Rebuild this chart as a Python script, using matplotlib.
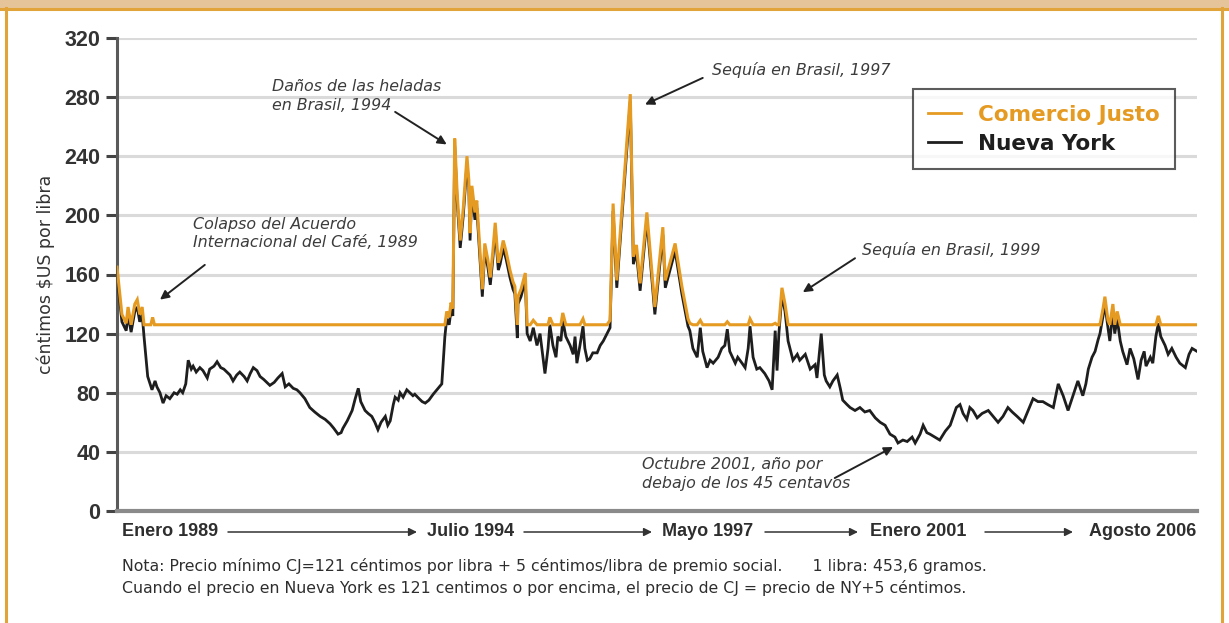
import matplotlib
matplotlib.use("Agg")
import matplotlib.pyplot as plt
from matplotlib.patches import Rectangle, FancyArrowPatch
from matplotlib.lines import Line2D

# ---------------- data ----------------
fechas_ny = [
    1989.00, 1989.08, 1989.15, 1989.18, 1989.23, 1989.29, 1989.33, 1989.37, 1989.41, 1989.44,
    1989.50, 1989.57, 1989.62, 1989.65, 1989.70, 1989.75, 1989.80, 1989.86, 1989.93, 1989.98,
    1990.03, 1990.07, 1990.12, 1990.16, 1990.21, 1990.24, 1990.29, 1990.35, 1990.40, 1990.47,
    1990.51, 1990.58, 1990.63, 1990.69, 1990.74, 1990.79, 1990.84, 1990.89, 1990.95, 1991.00,
    1991.07, 1991.12, 1991.17, 1991.22, 1991.28, 1991.33, 1991.39, 1991.44, 1991.49, 1991.56,
    1991.62, 1991.69, 1991.74, 1991.80, 1991.87, 1991.93, 1991.98, 1992.06, 1992.14, 1992.22,
    1992.31, 1992.39, 1992.47, 1992.53, 1992.60, 1992.65, 1992.68, 1992.75, 1992.83, 1992.88,
    1992.93, 1992.97, 1993.04, 1993.09, 1993.15, 1993.20, 1993.25, 1993.30, 1993.37, 1993.41,
    1993.45, 1993.50, 1993.53, 1993.58, 1993.61, 1993.66, 1993.72, 1993.77, 1993.82, 1993.85,
    1993.92, 1993.97, 1994.02, 1994.08, 1994.15, 1994.21, 1994.29, 1994.34, 1994.37, 1994.41,
    1994.44, 1994.47, 1994.50, 1994.54, 1994.59, 1994.64, 1994.70, 1994.73, 1994.75, 1994.78,
    1994.83, 1994.86, 1994.91, 1994.95, 1994.99, 1995.04, 1995.08, 1995.12, 1995.16, 1995.21,
    1995.24, 1995.29, 1995.34, 1995.40, 1995.45, 1995.48, 1995.52, 1995.53, 1995.58, 1995.65,
    1995.68, 1995.73, 1995.78, 1995.84, 1995.89, 1995.94, 1995.97, 1996.02, 1996.05, 1996.10,
    1996.15, 1996.18, 1996.23, 1996.26, 1996.31, 1996.38, 1996.43, 1996.46, 1996.49, 1996.54,
    1996.59, 1996.62, 1996.66, 1996.70, 1996.75, 1996.82, 1996.87, 1996.92, 1996.98, 1997.03,
    1997.08, 1997.14, 1997.36, 1997.41, 1997.46, 1997.52, 1997.63, 1997.76, 1997.89, 1997.93,
    1998.09, 1998.20, 1998.30, 1998.33, 1998.38, 1998.45, 1998.50, 1998.54, 1998.61, 1998.66,
    1998.71, 1998.79, 1998.85, 1998.90, 1998.94, 1998.98, 1999.07, 1999.11, 1999.18, 1999.23,
    1999.28, 1999.31, 1999.36, 1999.42, 1999.47, 1999.55, 1999.62, 1999.67, 1999.72, 1999.75,
    1999.78, 1999.83, 1999.88, 1999.93, 2000.01, 2000.08, 2000.12, 2000.21, 2000.29, 2000.37,
    2000.40, 2000.47, 2000.52, 2000.55, 2000.61, 2000.66, 2000.73, 2000.78, 2000.82, 2000.89,
    2000.94, 2001.02, 2001.10, 2001.18, 2001.26, 2001.35, 2001.43, 2001.51, 2001.59, 2001.67,
    2001.72, 2001.80, 2001.87, 2001.95, 2002.00, 2002.08, 2002.13, 2002.19, 2002.24, 2002.32,
    2002.40, 2002.49, 2002.57, 2002.62, 2002.67, 2002.73, 2002.78, 2002.84, 2002.89, 2002.94,
    2003.01, 2003.09, 2003.19, 2003.27, 2003.35, 2003.43, 2003.51, 2003.58, 2003.66, 2003.76,
    2003.84, 2003.92, 2004.00, 2004.08, 2004.16, 2004.25, 2004.33, 2004.41, 2004.49, 2004.57,
    2004.65, 2004.73, 2004.78, 2004.82, 2004.88, 2004.93, 2004.98, 2005.01, 2005.06, 2005.09,
    2005.14, 2005.17, 2005.22, 2005.25, 2005.29, 2005.34, 2005.38, 2005.45, 2005.50, 2005.56,
    2005.63, 2005.68, 2005.73, 2005.76, 2005.83, 2005.87, 2005.92, 2005.96, 2006.00, 2006.07,
    2006.12, 2006.18, 2006.25, 2006.31, 2006.40, 2006.46, 2006.51, 2006.59,
]
nueva_york = [
    160, 128, 122, 133, 121, 135, 138, 128, 133, 118,
    91, 82, 88, 84, 80, 73, 78, 76, 80, 79,
    82, 80, 86, 102, 96, 98, 94, 97, 95, 90,
    96, 98, 101, 97, 96, 94, 92, 88, 92, 94,
    91, 88, 93, 97, 95, 91, 89, 87, 85, 87,
    90, 93, 84, 86, 83, 82, 80, 76, 70, 67,
    64, 62, 59, 56, 52, 53, 56, 61, 68, 76,
    83, 74, 68, 66, 64, 60, 55, 60, 64, 58,
    61, 72, 77, 75, 80, 77, 82, 80, 78, 79,
    76, 74, 73, 75, 79, 82, 86, 118, 130, 126,
    136, 132, 247, 210, 178, 200, 235, 219, 183, 215,
    197, 205, 172, 145, 176, 165, 153, 170, 190, 163,
    167, 178, 170, 158, 150, 147, 117, 140, 145, 156,
    120, 115, 124, 112, 120, 103, 93, 110, 126, 112,
    104, 118, 115, 129, 118, 112, 106, 118, 100, 112,
    125, 110, 102, 103, 107, 107, 112, 115, 120, 124,
    203, 151, 277, 167, 175, 149, 197, 133, 187, 151,
    176, 147, 125, 122, 110, 104, 124, 108, 97, 102,
    100, 104, 110, 112, 123, 108, 100, 104, 100, 97,
    110, 125, 104, 96, 97, 93, 88, 82, 122, 95,
    120, 146, 135, 115, 102, 106, 102, 106, 96, 99,
    90, 120, 92, 88, 84, 88, 92, 83, 75, 72,
    70, 68, 70, 67, 68, 63, 60, 58, 52, 50,
    46, 48, 47, 50, 46, 52, 58, 53, 52, 50,
    48, 54, 58, 64, 70, 72, 66, 62, 70, 68,
    63, 66, 68, 64, 60, 64, 70, 67, 64, 60,
    68, 76, 74, 74, 72, 70, 86, 78, 68, 78,
    88, 78, 86, 96, 104, 108, 116, 120, 132, 140,
    124, 115, 135, 120, 130, 115, 108, 99, 110, 103,
    89, 102, 108, 98, 104, 100, 118, 127, 118, 112,
    106, 110, 104, 100, 97, 106, 110, 108,
]

fechas_cj = [
    1989.00, 1989.08, 1989.15, 1989.18, 1989.23, 1989.29, 1989.33, 1989.37, 1989.41, 1989.44,
    1989.55, 1989.58, 1989.61, 1994.34, 1994.37, 1994.41, 1994.44, 1994.47, 1994.50, 1994.54,
    1994.59, 1994.64, 1994.70, 1994.73, 1994.75, 1994.78, 1994.83, 1994.86, 1994.91, 1994.95,
    1994.99, 1995.04, 1995.08, 1995.12, 1995.16, 1995.21, 1995.24, 1995.29, 1995.34, 1995.40,
    1995.45, 1995.48, 1995.52, 1995.53, 1995.58, 1995.65, 1995.68, 1995.73, 1995.78, 1995.84,
    1996.02, 1996.05, 1996.10, 1996.23, 1996.26, 1996.31, 1996.54, 1996.59, 1996.62, 1996.98,
    1997.03, 1997.08, 1997.14, 1997.36, 1997.41, 1997.46, 1997.52, 1997.63, 1997.76, 1997.89,
    1997.93, 1998.09, 1998.20, 1998.30, 1998.33, 1998.38, 1998.45, 1998.50, 1998.54, 1998.90,
    1998.94, 1998.98, 1999.28, 1999.31, 1999.36, 1999.67, 1999.72, 1999.75, 1999.78, 1999.83,
    1999.88, 1999.93, 2004.98, 2005.01, 2005.06, 2005.09, 2005.14, 2005.17, 2005.22, 2005.25,
    2005.29, 2005.34, 2005.92, 2005.96, 2006.00, 2006.59,
]
comercio_justo = [
    165, 133, 127, 138, 126, 140, 143, 133, 138, 126,
    126, 131, 126, 126, 135, 131, 141, 137, 252, 215,
    183, 205, 240, 224, 188, 220, 202, 210, 177, 150,
    181, 170, 158, 175, 195, 168, 172, 183, 175, 163,
    155, 152, 126, 145, 150, 161, 126, 126, 129, 126,
    126, 131, 126, 126, 134, 126, 126, 130, 126, 126,
    129, 208, 156, 282, 172, 180, 154, 202, 138, 192,
    156, 181, 152, 130, 127, 126, 126, 129, 126, 126,
    128, 126, 126, 130, 126, 126, 127, 126, 126, 151,
    140, 126, 126, 126, 137, 145, 129, 126, 140, 126,
    135, 126, 126, 132, 126, 126,
]

yticks = [0, 40, 80, 120, 160, 200, 240, 280, 320]
etiquetas_x = ["Enero 1989", "Julio 1994", "Mayo 1997", "Enero 2001", "Agosto 2006"]

# ---------------- style ----------------
NARANJA = "#E59A22"
NEGRO = "#1E1E1E"
GRIS_TXT = "#3C3C3C"
W, H = 1229, 623

fig = plt.figure(figsize=(W / 100, H / 100), dpi=100)
fig.patch.set_facecolor("white")

# frame: banner + orange side borders
fig.add_artist(Rectangle((0, 1 - 8 / H), 1, 8 / H, transform=fig.transFigure,
                         facecolor="#E6C49A", edgecolor="none", zorder=0))
fig.add_artist(Line2D([0, 1], [1 - 8.5 / H] * 2, transform=fig.transFigure,
                      color="#E0A43A", lw=2.2))
fig.add_artist(Line2D([5.5 / W] * 2, [0, 1 - 8 / H], transform=fig.transFigure,
                      color="#E0A43A", lw=2.2))
fig.add_artist(Line2D([1221.5 / W] * 2, [0, 1 - 8 / H], transform=fig.transFigure,
                      color="#E0A43A", lw=2.2))

ax = fig.add_axes([117 / W, 1 - 511 / H, (1197 - 117) / W, (511 - 38) / H])
ax.set_xlim(1989.0, 2006.59)
ax.set_ylim(0, 320)

ax.set_yticks(yticks)
ax.yaxis.grid(True, color="#DADADA", lw=2.2)
ax.set_axisbelow(True)
for s in ["top", "right"]:
    ax.spines[s].set_visible(False)
ax.spines["left"].set_color("#5A5A5A")
ax.spines["left"].set_linewidth(2.2)
ax.spines["bottom"].set_color("#8A8A8A")
ax.spines["bottom"].set_linewidth(3)
ax.set_xticks([])
ax.tick_params(axis="y", length=8, width=2.2, color="#444444", pad=4,
               labelsize=15.5, labelcolor="#333333")
for t in ax.get_yticklabels():
    t.set_fontweight("bold")
    t.set_fontfamily("Liberation Sans")

ax.set_ylabel("céntimos $US por libra", fontsize=12.5, color="#333333",
              fontfamily="DejaVu Sans", labelpad=7)

ax.plot(fechas_ny, nueva_york, color=NEGRO, lw=2.0, zorder=3, label="Nueva York",
        solid_joinstyle="miter")
ax.plot(fechas_cj, comercio_justo, color=NARANJA, lw=2.2, zorder=4, label="Comercio Justo",
        solid_joinstyle="miter")

# legend
h_ny = Line2D([], [], color=NEGRO, lw=2)
h_cj = Line2D([], [], color=NARANJA, lw=2)
leg = ax.legend([h_cj, h_ny], ["Comercio Justo", "Nueva York"], loc="upper left",
                bbox_to_anchor=(0.737, 0.892), frameon=True, fancybox=False,
                prop={"weight": "bold", "size": 15.5, "family": "DejaVu Sans"},
                handlelength=1.5, handletextpad=0.8, borderpad=0.72,
                labelspacing=0.42, borderaxespad=0)
leg.get_frame().set_edgecolor("#333333")
leg.get_frame().set_linewidth(1.5)
leg.get_texts()[0].set_color(NARANJA)
leg.get_texts()[1].set_color("#1E1E1E")

# annotations
akw = dict(arrowstyle="-|>", color="#222222", lw=1.4, mutation_scale=13,
           shrinkA=0, shrinkB=0)
tkw = dict(fontsize=11.4, style="italic", color=GRIS_TXT, linespacing=1.3)

ax.text(1991.52, 292, "Daños de las heladas\nen Brasil, 1994", va="top", ha="left", **tkw)
ax.annotate("", xy=(1994.37, 248), xytext=(1993.53, 270), arrowprops=akw)

ax.text(1998.69, 298.5, "Sequía en Brasil, 1997", va="center", ha="left", **tkw)
ax.annotate("", xy=(1997.60, 275), xytext=(1998.54, 293), arrowprops=akw)

ax.text(1990.24, 199, "Colapso del Acuerdo\nInternacional del Café, 1989", va="top", ha="left", **tkw)
ax.annotate("", xy=(1989.70, 143), xytext=(1990.43, 166.5), arrowprops=akw)

ax.text(2001.13, 176.6, "Sequía en Brasil, 1999", va="center", ha="left", **tkw)
ax.annotate("", xy=(2000.17, 148), xytext=(2001.02, 171), arrowprops=akw)

ax.text(1997.55, 36.5, "Octubre 2001, año por\ndebajo de los 45 centavos", va="top", ha="left", **tkw)
ax.annotate("", xy=(2001.64, 43.3), xytext=(2000.69, 22.3), arrowprops=akw)

# timeline labels under axis
ylab = 1 - 532 / H
pos_lab = [(122, "left"), (427, "left"), (662, "left"), (870, "left"), (1196, "right")]
for (px, ha), lab in zip(pos_lab, etiquetas_x):
    fig.text(px / W, ylab, lab, ha=ha, va="center", fontsize=13, color="#2E2E2E",
             fontfamily="Liberation Sans", fontweight="bold")
flechas = [(228, 417), (524, 652), (765, 858), (985, 1073)]
for x0, x1 in flechas:
    fig.add_artist(FancyArrowPatch(
        (x0 / W, ylab), (x1 / W, ylab), transform=fig.transFigure,
        arrowstyle="-|>", color="#333333", lw=1.1, mutation_scale=12,
        shrinkA=0, shrinkB=0))

nota1 = ("Nota: Precio mínimo CJ=121 céntimos por libra + 5 céntimos/libra de premio social."
         "      1 libra: 453,6 gramos.")
nota2 = ("Cuando el precio en Nueva York es 121 centimos o por encima, "
         "el precio de CJ = precio de NY+5 céntimos.")
fig.text(122 / W, 1 - 566 / H, nota1, ha="left", va="center", fontsize=11.3,
         color="#2E2E2E", fontfamily="DejaVu Sans")
fig.text(122 / W, 1 - 588 / H, nota2, ha="left", va="center", fontsize=11.3,
         color="#2E2E2E", fontfamily="DejaVu Sans")

fig.savefig("out.png", dpi=100, facecolor="white")
